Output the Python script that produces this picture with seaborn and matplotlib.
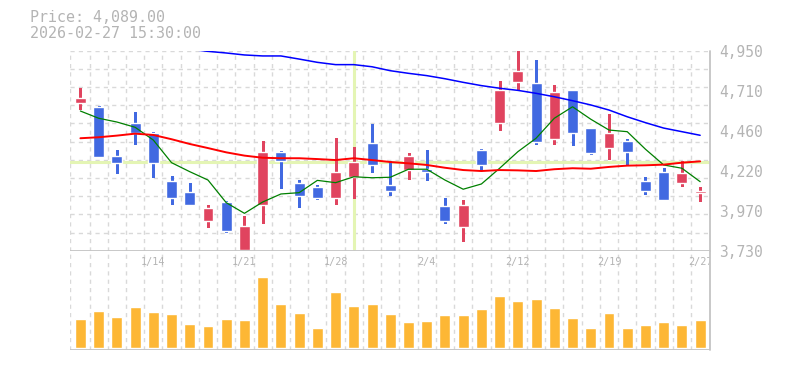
import numpy as np
import pandas as pd
import matplotlib
matplotlib.use("Agg")
import matplotlib.pyplot as plt
import matplotlib.transforms as mtransforms
import seaborn as sns

sns.set_theme(style="white")
plt.rcParams['font.family'] = ['DejaVu Sans Mono', 'DejaVu Sans']
plt.rcParams['lines.scale_dashes'] = False

# trading days shown (35 sessions)
dates = ['1/7', '1/8', '1/9', '1/13', '1/14', '1/15', '1/16', '1/19', '1/20', '1/21',
         '1/22', '1/23', '1/26', '1/27', '1/28', '1/29', '1/30', '2/2', '2/3', '2/4',
         '2/5', '2/6', '2/9', '2/10', '2/12', '2/13', '2/16', '2/17', '2/18', '2/19',
         '2/20', '2/24', '2/25', '2/26', '2/27']
date_labels = ['1/14', '1/21', '1/28', '2/4', '2/12', '2/19', '2/27']

# OHLC
opens = [4633, 4608, 4308, 4509, 4448, 4155, 4088, 3913, 4027, 3734,
         4011, 4332, 4143, 4119, 4053, 4181, 4387, 4131, 4224, 4230,
         4005, 3876, 4344, 4511, 4761, 4753, 4413, 4710, 4478, 4358,
         4401, 4157, 4210, 4145, 4085]
highs = [4724, 4614, 4344, 4578, 4454, 4186, 4143, 4011, 4033, 3944,
         4401, 4340, 4161, 4131, 4417, 4363, 4503, 4279, 4326, 4346,
         4053, 4041, 4350, 4767, 4954, 4893, 4741, 4710, 4478, 4566,
         4413, 4181, 4236, 4279, 4120]
lows = [4593, 4302, 4206, 4383, 4181, 4015, 4011, 3876, 3846, 3730,
        3901, 4114, 3998, 4047, 4017, 4053, 4212, 4072, 4169, 4163,
        3901, 3791, 4224, 4468, 4718, 4383, 4383, 4377, 4322, 4291,
        4261, 4078, 4041, 4127, 4035]
closes = [4661, 4303, 4267, 4450, 4267, 4053, 4011, 3990, 3852, 3881,
          4332, 4279, 4066, 4053, 4210, 4271, 4255, 4096, 4308, 4212,
          3913, 4011, 4255, 4710, 4826, 4395, 4698, 4450, 4328, 4448,
          4334, 4096, 4041, 4206, 4089]

# moving averages (short / mid / long)
ma_short = [4582, 4538, 4515, 4483, 4405, 4267, 4212, 4161, 4023, 3958,
            4027, 4076, 4084, 4159, 4145, 4181, 4175, 4178, 4227, 4227,
            4161, 4105, 4137, 4233, 4334, 4416, 4538, 4608, 4532, 4466,
            4456, 4349, 4253, 4233, 4151]
ma_mid = [4416, 4422, 4432, 4444, 4436, 4410, 4381, 4356, 4330, 4310,
          4297, 4294, 4294, 4289, 4283, 4294, 4283, 4271, 4263, 4253,
          4236, 4222, 4216, 4222, 4220, 4216, 4227, 4233, 4230, 4241,
          4249, 4251, 4255, 4267, 4275]
ma_long = [np.nan] * 6 + [4959, 4946, 4936, 4924, 4918, 4918, 4899, 4879, 4865,
                          4865, 4852, 4828, 4812, 4798, 4779, 4757, 4737, 4721,
                          4708, 4690, 4669, 4645, 4619, 4588, 4547, 4511, 4478,
                          4456, 4434]

# volume (relative units)
volume = [290, 370, 310, 410, 360, 340, 240, 220, 290, 280,
          710, 440, 350, 200, 560, 420, 440, 340, 260, 270,
          330, 330, 390, 520, 470, 490, 400, 300, 200, 350,
          200, 230, 260, 230, 280]

price_ticks = [3730, 3974, 4218, 4462, 4706, 4950]
price_tick_labels = ['3,730', '3,970', '4,220', '4,460', '4,710', '4,950']
cross_idx = 15
cross_price = 4269

df = pd.DataFrame({'date': dates, 'open': opens, 'high': highs, 'low': lows,
                   'close': closes, 'ma5': ma_short, 'ma25': ma_mid,
                   'ma75': ma_long, 'volume': volume})
df['i'] = np.arange(len(df))

RED = '#e0445f'
BLUE = '#4169e1'
GRID = '#d9d9d9'
FRAME = '#c4c4c4'
TXT = '#b4b4b4'

fig = plt.figure(figsize=(7.85, 3.7), dpi=100)
ax = fig.add_axes([70 / 785, 1 - 250.7 / 370, 640 / 785, 200 / 370])
axv = fig.add_axes([70 / 785, 1 - 350 / 370, 640 / 785, 99.3 / 370])

xlim = (-0.57, 34.54)
ylim = (3730, 4950)
n = len(df)

for a in (ax, axv):
    a.set_facecolor('white')
    for s in a.spines.values():
        s.set_visible(False)
    # vertical dashed grid between sessions
    for gx in [xlim[0]] + [k + 0.5 for k in range(n - 1)]:
        a.axvline(gx, color=GRID, lw=1, ls=(0, (3, 3)), zorder=0)
    a.axvline(xlim[1], color=FRAME, lw=1.3, zorder=5, clip_on=False)

# horizontal dashed grid in price panel
for gy in np.linspace(ylim[0], ylim[1], 12)[1:]:
    ax.axhline(gy, color=GRID, lw=1, ls=(0, (3, 3)), zorder=0)

# crosshair
ax.axhline(cross_price, color='#e4f5b4', lw=2.2, zorder=1)
ax.axvline(cross_idx, ymin=0.01, ymax=1, color='#e4f5b4', lw=2.2, zorder=1)

# candles
up = df['close'] >= df['open']
cols = np.where(up, RED, BLUE)
ax.vlines(df['i'], df['low'], df['high'], colors=cols, lw=1.0, zorder=3,
          antialiased=False)
body_bottom = np.minimum(df['open'], df['close'])
body_h = np.maximum(np.abs(df['close'] - df['open']), 10)
ax.bar(df['i'], body_h, bottom=body_bottom, width=0.6, color=cols, zorder=4)

# moving averages
sns.lineplot(data=df, x='i', y='ma5', ax=ax, color='#008000', lw=0.9, zorder=5)
sns.lineplot(data=df, x='i', y='ma25', ax=ax, color='#ff0000', lw=1.4, zorder=5)
sns.lineplot(data=df, x='i', y='ma75', ax=ax, color='#0000ff', lw=1.1, zorder=5)

ax.set_xlim(*xlim)
ax.set_ylim(*ylim)
ax.axhline(ylim[0], color=FRAME, lw=1.3, zorder=6)
ax.set_xticks([])
ax.yaxis.tick_right()
ax.set_yticks(price_ticks)
ax.set_yticklabels(price_tick_labels)
ax.tick_params(axis='y', length=0, pad=6.5, labelsize=10.5, labelcolor=TXT)
ax.set_xlabel('')
ax.set_ylabel('')

# volume panel
sns.barplot(data=df, x='i', y='volume', ax=axv, color='#fdb735', width=0.6,
            saturation=1, zorder=3)
vmax = max(volume)
axv.set_xlim(*xlim)
axv.set_ylim(-0.028 * vmax, 1.37 * vmax)
axv.axhline(-0.028 * vmax, color=FRAME, lw=1.3, zorder=6)
axv.set_xticks([])
axv.set_yticks([])
axv.set_xlabel('')
axv.set_ylabel('')
trans = mtransforms.blended_transform_factory(axv.transData, axv.transAxes)
for lab in date_labels:
    axv.text(dates.index(lab), 0.886, lab, transform=trans, ha='center',
             va='center', fontsize=7.3, color=TXT, clip_on=True)

fig.text(30 / 785, 1 - 17.5 / 370, 'Price: 4,089.00', fontsize=10.8,
         color=TXT, va='center', ha='left')
fig.text(30 / 785, 1 - 33 / 370, '2026-02-27 15:30:00', fontsize=10.8,
         color=TXT, va='center', ha='left')

fig.savefig('out.png', dpi=100)
